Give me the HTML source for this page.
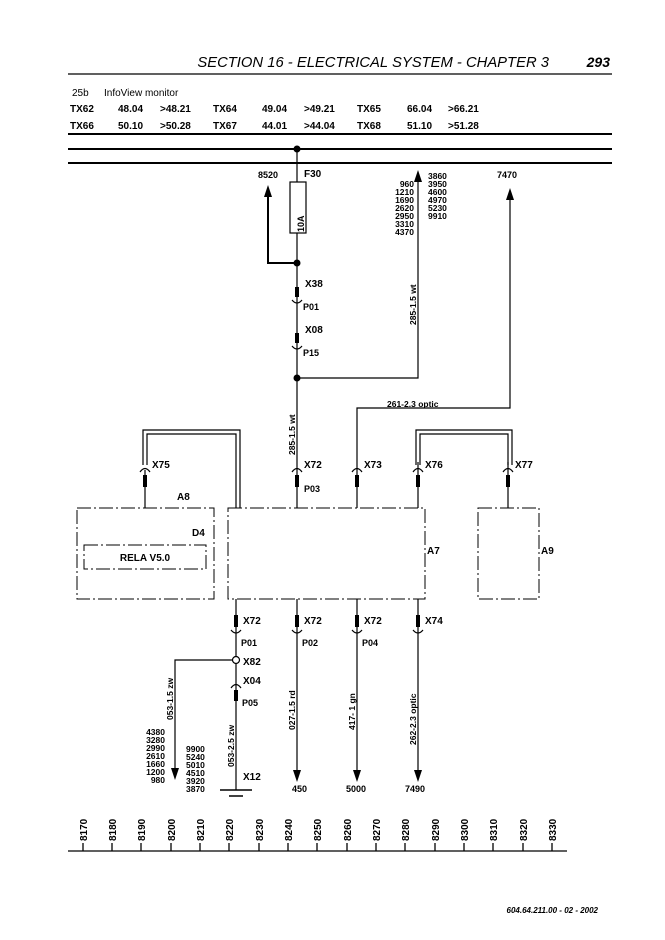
<!DOCTYPE html>
<html><head><meta charset="utf-8">
<style>
html,body{margin:0;padding:0;background:#fff;}
svg{display:block;}
text{font-family:"Liberation Sans",sans-serif;fill:#000;}
.b{font-weight:bold;}
.s{font-size:9px;font-weight:bold;}
.m{font-size:10px;font-weight:bold;}
</style></head>
<body>
<svg width="665" height="940" viewBox="0 0 665 940" xmlns="http://www.w3.org/2000/svg">
<!-- header -->
<text x="549" y="67" font-size="14.8" font-style="italic" text-anchor="end">SECTION 16 - ELECTRICAL SYSTEM - CHAPTER 3</text>
<text x="610" y="67" font-size="14" font-style="italic" font-weight="bold" text-anchor="end">293</text>
<line x1="68" y1="74" x2="612" y2="74" stroke="#000" stroke-width="1.3"/>
<text x="72" y="96" font-size="10">25b</text>
<text x="104" y="96" font-size="10">InfoView monitor</text>
<g class="m" font-size="10">
<text x="70" y="112" class="m">TX62</text><text x="118" y="112" class="m">48.04</text><text x="160" y="112" class="m">&gt;48.21</text>
<text x="213" y="112" class="m">TX64</text><text x="262" y="112" class="m">49.04</text><text x="304" y="112" class="m">&gt;49.21</text>
<text x="357" y="112" class="m">TX65</text><text x="407" y="112" class="m">66.04</text><text x="448" y="112" class="m">&gt;66.21</text>
<text x="70" y="129" class="m">TX66</text><text x="118" y="129" class="m">50.10</text><text x="160" y="129" class="m">&gt;50.28</text>
<text x="213" y="129" class="m">TX67</text><text x="262" y="129" class="m">44.01</text><text x="304" y="129" class="m">&gt;44.04</text>
<text x="357" y="129" class="m">TX68</text><text x="407" y="129" class="m">51.10</text><text x="448" y="129" class="m">&gt;51.28</text>
</g>
<line x1="68" y1="134" x2="612" y2="134" stroke="#000" stroke-width="2"/>
<line x1="68" y1="149" x2="612" y2="149" stroke="#000" stroke-width="2"/>
<line x1="68" y1="163" x2="612" y2="163" stroke="#000" stroke-width="2"/>

<g stroke="#000" fill="none" stroke-width="1.2">
<line x1="297" y1="149" x2="297" y2="182"/>
<line x1="297" y1="233" x2="297" y2="462"/>
<rect x="290" y="182" width="16" height="51"/>
<polyline points="297,263 268,263 268,195" stroke-width="2"/>
<polyline points="297,378 418,378 418,180"/>
<polyline points="357,462 357,408 510,408 510,198"/>
<polyline points="143,465 143,430 240,430 240,508"/>
<polyline points="147,465 147,434 236,434 236,508"/>
<polyline points="416,465 416,430 512,430 512,465"/>
<polyline points="420,465 420,434 508,434 508,465"/>
<g stroke-dasharray="14,3,2,3" stroke-width="1">
<rect x="77" y="508" width="137" height="91"/>
<rect x="84" y="545" width="122" height="24"/>
<rect x="228" y="508" width="197" height="91"/>
<rect x="478" y="508" width="61" height="91"/>
</g>
<line x1="145" y1="470" x2="145" y2="508"/>
<line x1="297" y1="462" x2="297" y2="508"/>
<line x1="357" y1="462" x2="357" y2="508"/>
<line x1="418" y1="462" x2="418" y2="508"/>
<line x1="508" y1="462" x2="508" y2="508"/>
<line x1="236" y1="599" x2="236" y2="790"/>
<line x1="297" y1="599" x2="297" y2="770"/>
<line x1="357" y1="599" x2="357" y2="770"/>
<line x1="418" y1="599" x2="418" y2="770"/>
<polyline points="232,660 175,660 175,768"/>
</g>

<g fill="#000">
<circle cx="297" cy="149" r="3.5"/>
<circle cx="297" cy="263" r="3.5"/>
<circle cx="297" cy="378" r="3.5"/>
<polygon points="268,185 264,197 272,197"/>
<polygon points="418,170 414,182 422,182"/>
<polygon points="510,188 506,200 514,200"/>
<polygon points="175,780 171,768 179,768"/>
<polygon points="297,782 293,770 301,770"/>
<polygon points="357,782 353,770 361,770"/>
<polygon points="418,782 414,770 422,770"/>
<rect x="295" y="287" width="4" height="10"/>
<rect x="295" y="333" width="4" height="10"/>
<rect x="143" y="475" width="4" height="12"/>
<rect x="295" y="475" width="4" height="12"/>
<rect x="355" y="475" width="4" height="12"/>
<rect x="416" y="475" width="4" height="12"/>
<rect x="506" y="475" width="4" height="12"/>
<rect x="234" y="615" width="4" height="12"/>
<rect x="295" y="615" width="4" height="12"/>
<rect x="355" y="615" width="4" height="12"/>
<rect x="416" y="615" width="4" height="12"/>
<rect x="234" y="690" width="4" height="11"/>
</g>
<g stroke="#000" fill="none" stroke-width="1.2">
<path d="M292,300 Q297,306 302,300"/>
<path d="M292,346 Q297,352 302,346"/>
<path d="M140,472 Q145,465 150,472"/>
<path d="M292,472 Q297,465 302,472"/>
<path d="M352,472 Q357,465 362,472"/>
<path d="M413,472 Q418,465 423,472"/>
<path d="M503,472 Q508,465 513,472"/>
<path d="M231,630 Q236,636 241,630"/>
<path d="M292,630 Q297,636 302,630"/>
<path d="M352,630 Q357,636 362,630"/>
<path d="M413,630 Q418,636 423,630"/>
<path d="M231,688 Q236,681 241,688"/>
<circle cx="236" cy="660" r="3.5" fill="#fff"/>
<line x1="220" y1="790" x2="252" y2="790" stroke-width="1.5"/>
<line x1="229" y1="796" x2="243" y2="796" stroke-width="1.5"/>
</g>

<g class="m">
<text x="304" y="177" class="m" font-size="12">F30</text>
<text x="258" y="178" class="s">8520</text>
<text x="497" y="178" class="s">7470</text>
<text x="305" y="287" class="m" font-size="12">X38</text>
<text x="303" y="310" class="s" font-size="8">P01</text>
<text x="305" y="333" class="m" font-size="12">X08</text>
<text x="303" y="356" class="s" font-size="8">P15</text>
<text x="304" y="468" class="m" font-size="12">X72</text>
<text x="304" y="492" class="s" font-size="8">P03</text>
<text x="152" y="468" class="m" font-size="12">X75</text>
<text x="364" y="468" class="m" font-size="12">X73</text>
<text x="425" y="468" class="m" font-size="12">X76</text>
<text x="515" y="468" class="m" font-size="12">X77</text>
<text x="177" y="500" class="m" font-size="11">A8</text>
<text x="192" y="536" class="m" font-size="11">D4</text>
<text x="145" y="561" class="m" font-size="11" text-anchor="middle">RELA V5.0</text>
<text x="427" y="554" class="m" font-size="11">A7</text>
<text x="541" y="554" class="m" font-size="11">A9</text>
<text x="243" y="624" class="m" font-size="12">X72</text>
<text x="304" y="624" class="m" font-size="12">X72</text>
<text x="364" y="624" class="m" font-size="12">X72</text>
<text x="425" y="624" class="m" font-size="12">X74</text>
<text x="241" y="646" class="s" font-size="8">P01</text>
<text x="302" y="646" class="s" font-size="8">P02</text>
<text x="362" y="646" class="s" font-size="8">P04</text>
<text x="243" y="665" class="m" font-size="12">X82</text>
<text x="243" y="684" class="m" font-size="12">X04</text>
<text x="242" y="706" class="s" font-size="8">P05</text>
<text x="243" y="780" class="m" font-size="12">X12</text>
<text x="292" y="792" class="s">450</text>
<text x="346" y="792" class="s">5000</text>
<text x="405" y="792" class="s">7490</text>
</g>
<g font-size="8.5" font-weight="bold" text-anchor="end">
<text x="414" y="187">960</text><text x="414" y="195">1210</text><text x="414" y="203">1690</text><text x="414" y="211">2620</text><text x="414" y="219">2950</text><text x="414" y="227">3310</text><text x="414" y="235">4370</text>
<text x="165" y="735">4380</text><text x="165" y="743">3280</text><text x="165" y="751">2990</text><text x="165" y="759">2610</text><text x="165" y="767">1660</text><text x="165" y="775">1200</text><text x="165" y="783">980</text>
</g>
<g font-size="8.5" font-weight="bold">
<text x="428" y="179">3860</text><text x="428" y="187">3950</text><text x="428" y="195">4600</text><text x="428" y="203">4970</text><text x="428" y="211">5230</text><text x="428" y="219">9910</text>
<text x="186" y="752">9900</text><text x="186" y="760">5240</text><text x="186" y="768">5010</text><text x="186" y="776">4510</text><text x="186" y="784">3920</text><text x="186" y="792">3870</text>
</g>
<g font-size="8.5" font-weight="bold">
<text transform="translate(304,232) rotate(-90)" font-size="9">10A</text>
<text transform="translate(416,325) rotate(-90)">285-1.5 wt</text>
<text transform="translate(295,455) rotate(-90)">285-1.5 wt</text>
<text x="387" y="407">261-2.3 optic</text>
<text transform="translate(173,720) rotate(-90)">053-1.5 zw</text>
<text transform="translate(234,767) rotate(-90)">053-2.5 zw</text>
<text transform="translate(295,730) rotate(-90)">027-1.5 rd</text>
<text transform="translate(355,730) rotate(-90)">417- 1 gn</text>
<text transform="translate(416,745) rotate(-90)">262-2.3 optic</text>
</g>

<line x1="68" y1="851" x2="567" y2="851" stroke="#000" stroke-width="1.3"/>
<g stroke="#000" stroke-width="1.3">
<line x1="83" y1="843" x2="83" y2="851"/><line x1="112" y1="843" x2="112" y2="851"/><line x1="141" y1="843" x2="141" y2="851"/><line x1="171" y1="843" x2="171" y2="851"/><line x1="200" y1="843" x2="200" y2="851"/><line x1="229" y1="843" x2="229" y2="851"/><line x1="259" y1="843" x2="259" y2="851"/><line x1="288" y1="843" x2="288" y2="851"/><line x1="317" y1="843" x2="317" y2="851"/><line x1="347" y1="843" x2="347" y2="851"/><line x1="376" y1="843" x2="376" y2="851"/><line x1="405" y1="843" x2="405" y2="851"/><line x1="435" y1="843" x2="435" y2="851"/><line x1="464" y1="843" x2="464" y2="851"/><line x1="493" y1="843" x2="493" y2="851"/><line x1="523" y1="843" x2="523" y2="851"/><line x1="552" y1="843" x2="552" y2="851"/>
</g>
<g font-size="10" font-weight="bold" font-family="Liberation Mono">
<text transform="translate(87,841) rotate(-90)">8170</text>
<text transform="translate(116,841) rotate(-90)">8180</text>
<text transform="translate(145,841) rotate(-90)">8190</text>
<text transform="translate(175,841) rotate(-90)">8200</text>
<text transform="translate(204,841) rotate(-90)">8210</text>
<text transform="translate(233,841) rotate(-90)">8220</text>
<text transform="translate(263,841) rotate(-90)">8230</text>
<text transform="translate(292,841) rotate(-90)">8240</text>
<text transform="translate(321,841) rotate(-90)">8250</text>
<text transform="translate(351,841) rotate(-90)">8260</text>
<text transform="translate(380,841) rotate(-90)">8270</text>
<text transform="translate(409,841) rotate(-90)">8280</text>
<text transform="translate(439,841) rotate(-90)">8290</text>
<text transform="translate(468,841) rotate(-90)">8300</text>
<text transform="translate(497,841) rotate(-90)">8310</text>
<text transform="translate(527,841) rotate(-90)">8320</text>
<text transform="translate(556,841) rotate(-90)">8330</text>
</g>
<text x="598" y="913" font-size="8" font-style="italic" font-weight="bold" text-anchor="end">604.64.211.00 - 02 - 2002</text>
</svg>
</body></html>
